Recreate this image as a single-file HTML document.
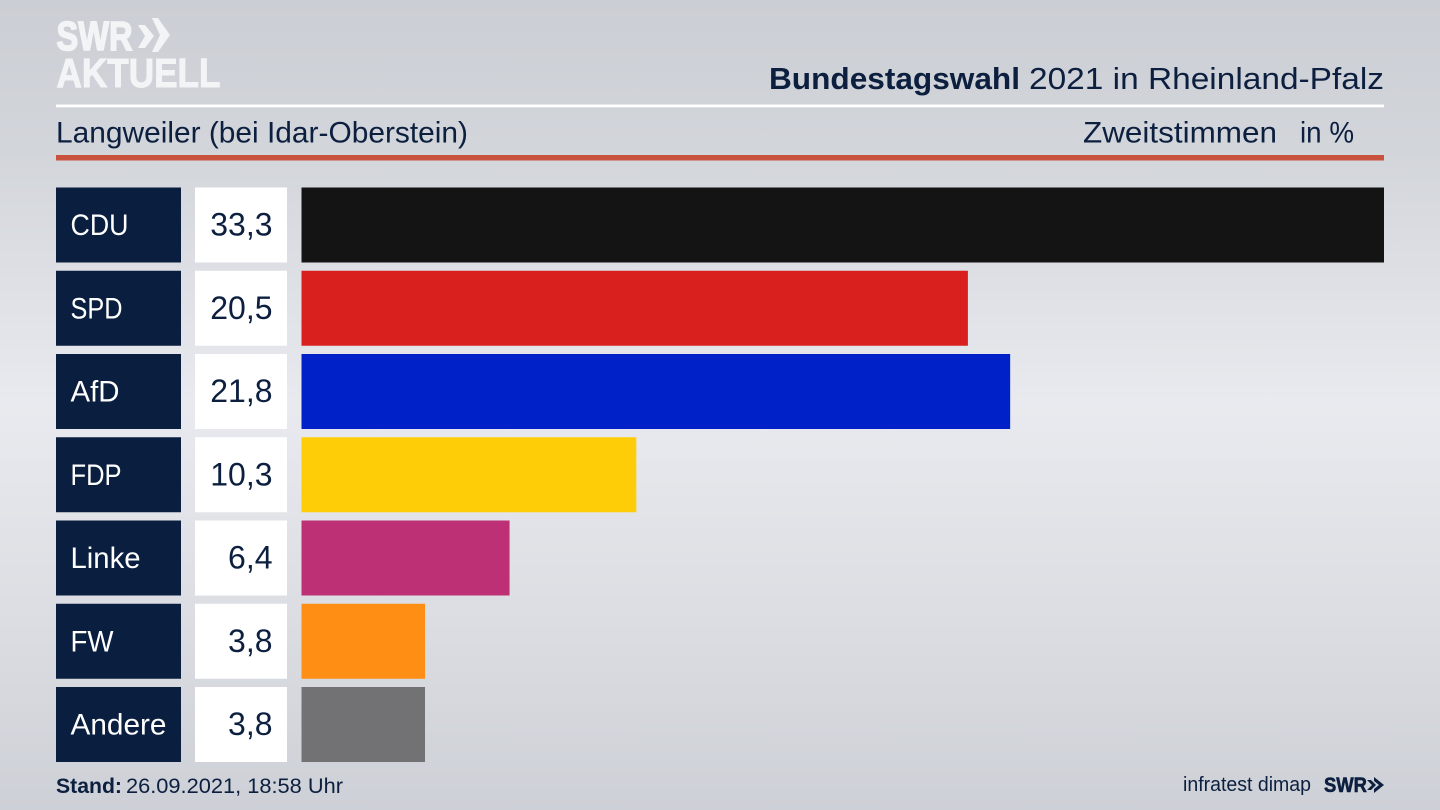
<!DOCTYPE html>
<html lang="de">
<head>
<meta charset="utf-8">
<title>Bundestagswahl 2021 in Rheinland-Pfalz</title>
<style>
html,body{margin:0;padding:0;width:1440px;height:810px;overflow:hidden}
body{background:linear-gradient(180deg,#cbced4 0%,#d3d6db 20%,#e9eaef 50%,#dcdee3 75%,#cdd0d6 100%)}
svg{display:block;position:absolute;left:0;top:0}
text{font-family:"Liberation Sans",sans-serif;fill:#0c1f3f}
</style>
</head>
<body>
<svg id="chart" width="1440" height="810" viewBox="0 0 1440 810">
  <g>
    <text x="56.5" y="50" font-size="41" font-weight="700" textLength="76" lengthAdjust="spacingAndGlyphs" style="fill:#f3f4f6;stroke:#f3f4f6;stroke-width:1.6">SWR</text>
    <polygon points="138,25 145,25 154,36 145,48 138,48 145,36" fill="#f3f4f6"/>
    <polygon points="152,18 158,18 170,35 158,52 152,52 160,35" fill="#f3f4f6"/>
    <text x="56.5" y="87" font-size="41" font-weight="700" textLength="164" lengthAdjust="spacingAndGlyphs" style="fill:#f3f4f6;stroke:#f3f4f6;stroke-width:1">AKTUELL</text>
  </g>
  <text x="769" y="89" font-size="31" font-weight="700" textLength="251" lengthAdjust="spacingAndGlyphs">Bundestagswahl</text>
  <text x="1029" y="89" font-size="31" textLength="355" lengthAdjust="spacingAndGlyphs">2021 in Rheinland-Pfalz</text>
  <rect x="56" y="104.5" width="1328" height="2.8" fill="#ffffff"/>
  <text x="56" y="142.5" font-size="29.5" textLength="412" lengthAdjust="spacingAndGlyphs">Langweiler (bei Idar-Oberstein)</text>
  <text x="1083" y="142.5" font-size="29.5" textLength="194" lengthAdjust="spacingAndGlyphs">Zweitstimmen</text>
  <text x="1300" y="142.5" font-size="29.5" textLength="54" lengthAdjust="spacingAndGlyphs">in %</text>
  <rect x="56" y="155" width="1328" height="5.5" fill="#c9523f"/>
  <g id="rows"></g>
  <text x="56" y="793" font-size="21.5" font-weight="700" textLength="66" lengthAdjust="spacingAndGlyphs">Stand:</text>
  <text x="126" y="793" font-size="21.5" textLength="217" lengthAdjust="spacingAndGlyphs">26.09.2021, 18:58 Uhr</text>
  <text x="1183" y="791" font-size="20" textLength="128" lengthAdjust="spacingAndGlyphs">infratest dimap</text>
  <g>
    <text x="1324" y="792" font-size="21" font-weight="700" textLength="43" lengthAdjust="spacingAndGlyphs" style="stroke:#0c1f3f;stroke-width:.6">SWR</text>
    <polygon points="1367,780 1371,780 1376,785 1371,790 1367,790 1372,785" fill="#0c1f3f"/>
    <polygon points="1374,777 1384,785 1374,793 1374,789 1379,785 1374,781" fill="#0c1f3f"/>
  </g>
</svg>
<script>
const parties = ['CDU', 'SPD', 'AfD', 'FDP', 'Linke', 'FW', 'Andere'];
const shares = [33.3, 20.5, 21.8, 10.3, 6.4, 3.8, 3.8];

const barStyle = {CDU:'#141414', SPD:'#d9201e', AfD:'#0020c8', FDP:'#ffcd08', Linke:'#bd3075', FW:'#ff8e15', Andere:'#727274'};
const labelFit = {CDU:58, SPD:52, AfD:49, FDP:51, Linke:70, FW:43, Andere:96};

const NS = 'http://www.w3.org/2000/svg';
const xOrigin = 301.5, xEnd = 1384, domainMax = 33.3;
const yOrigin = 187.5, rowStep = 83.25, rowHeight = 75;
function xScale(v) { return xOrigin + (v / domainMax) * (xEnd - xOrigin); }
function yScale(i) { return yOrigin + i * rowStep; }
function make(tag, attrs) {
  const el = document.createElementNS(NS, tag);
  for (const k in attrs) el.setAttribute(k, attrs[k]);
  return el;
}
const rows = document.getElementById('rows');
parties.forEach(function (party, i) {
  const key = party.toLowerCase();
  const y = yScale(i);
  const g = make('g', {});
  
  

  const labelBox = make('rect', {x: 56, y: y, width: 125, height: rowHeight, fill: '#0a1e3f'});
  
  
  g.appendChild(labelBox);

  const label = make('text', {x: 70.5, y: y + 47.5, 'font-size': 30, textLength: labelFit[party] || 60, lengthAdjust: 'spacingAndGlyphs', style: 'fill:#ffffff'});
  label.textContent = party;
  
  
  g.appendChild(label);

  const valueBox = make('rect', {x: 195, y: y, width: 92, height: rowHeight, fill: '#ffffff'});
  
  
  g.appendChild(valueBox);

  const value = make('text', {x: 272.5, y: y + 48, 'font-size': 32, 'text-anchor': 'end'});
  value.textContent = shares[i].toFixed(1).replace('.', ',');
  
  
  g.appendChild(value);

  const bar = make('rect', {x: xOrigin, y: y, width: xScale(shares[i]) - xOrigin, height: rowHeight, fill: barStyle[party]});
  
  
  g.appendChild(bar);

  rows.appendChild(g);
});
</script>
</body>
</html>
